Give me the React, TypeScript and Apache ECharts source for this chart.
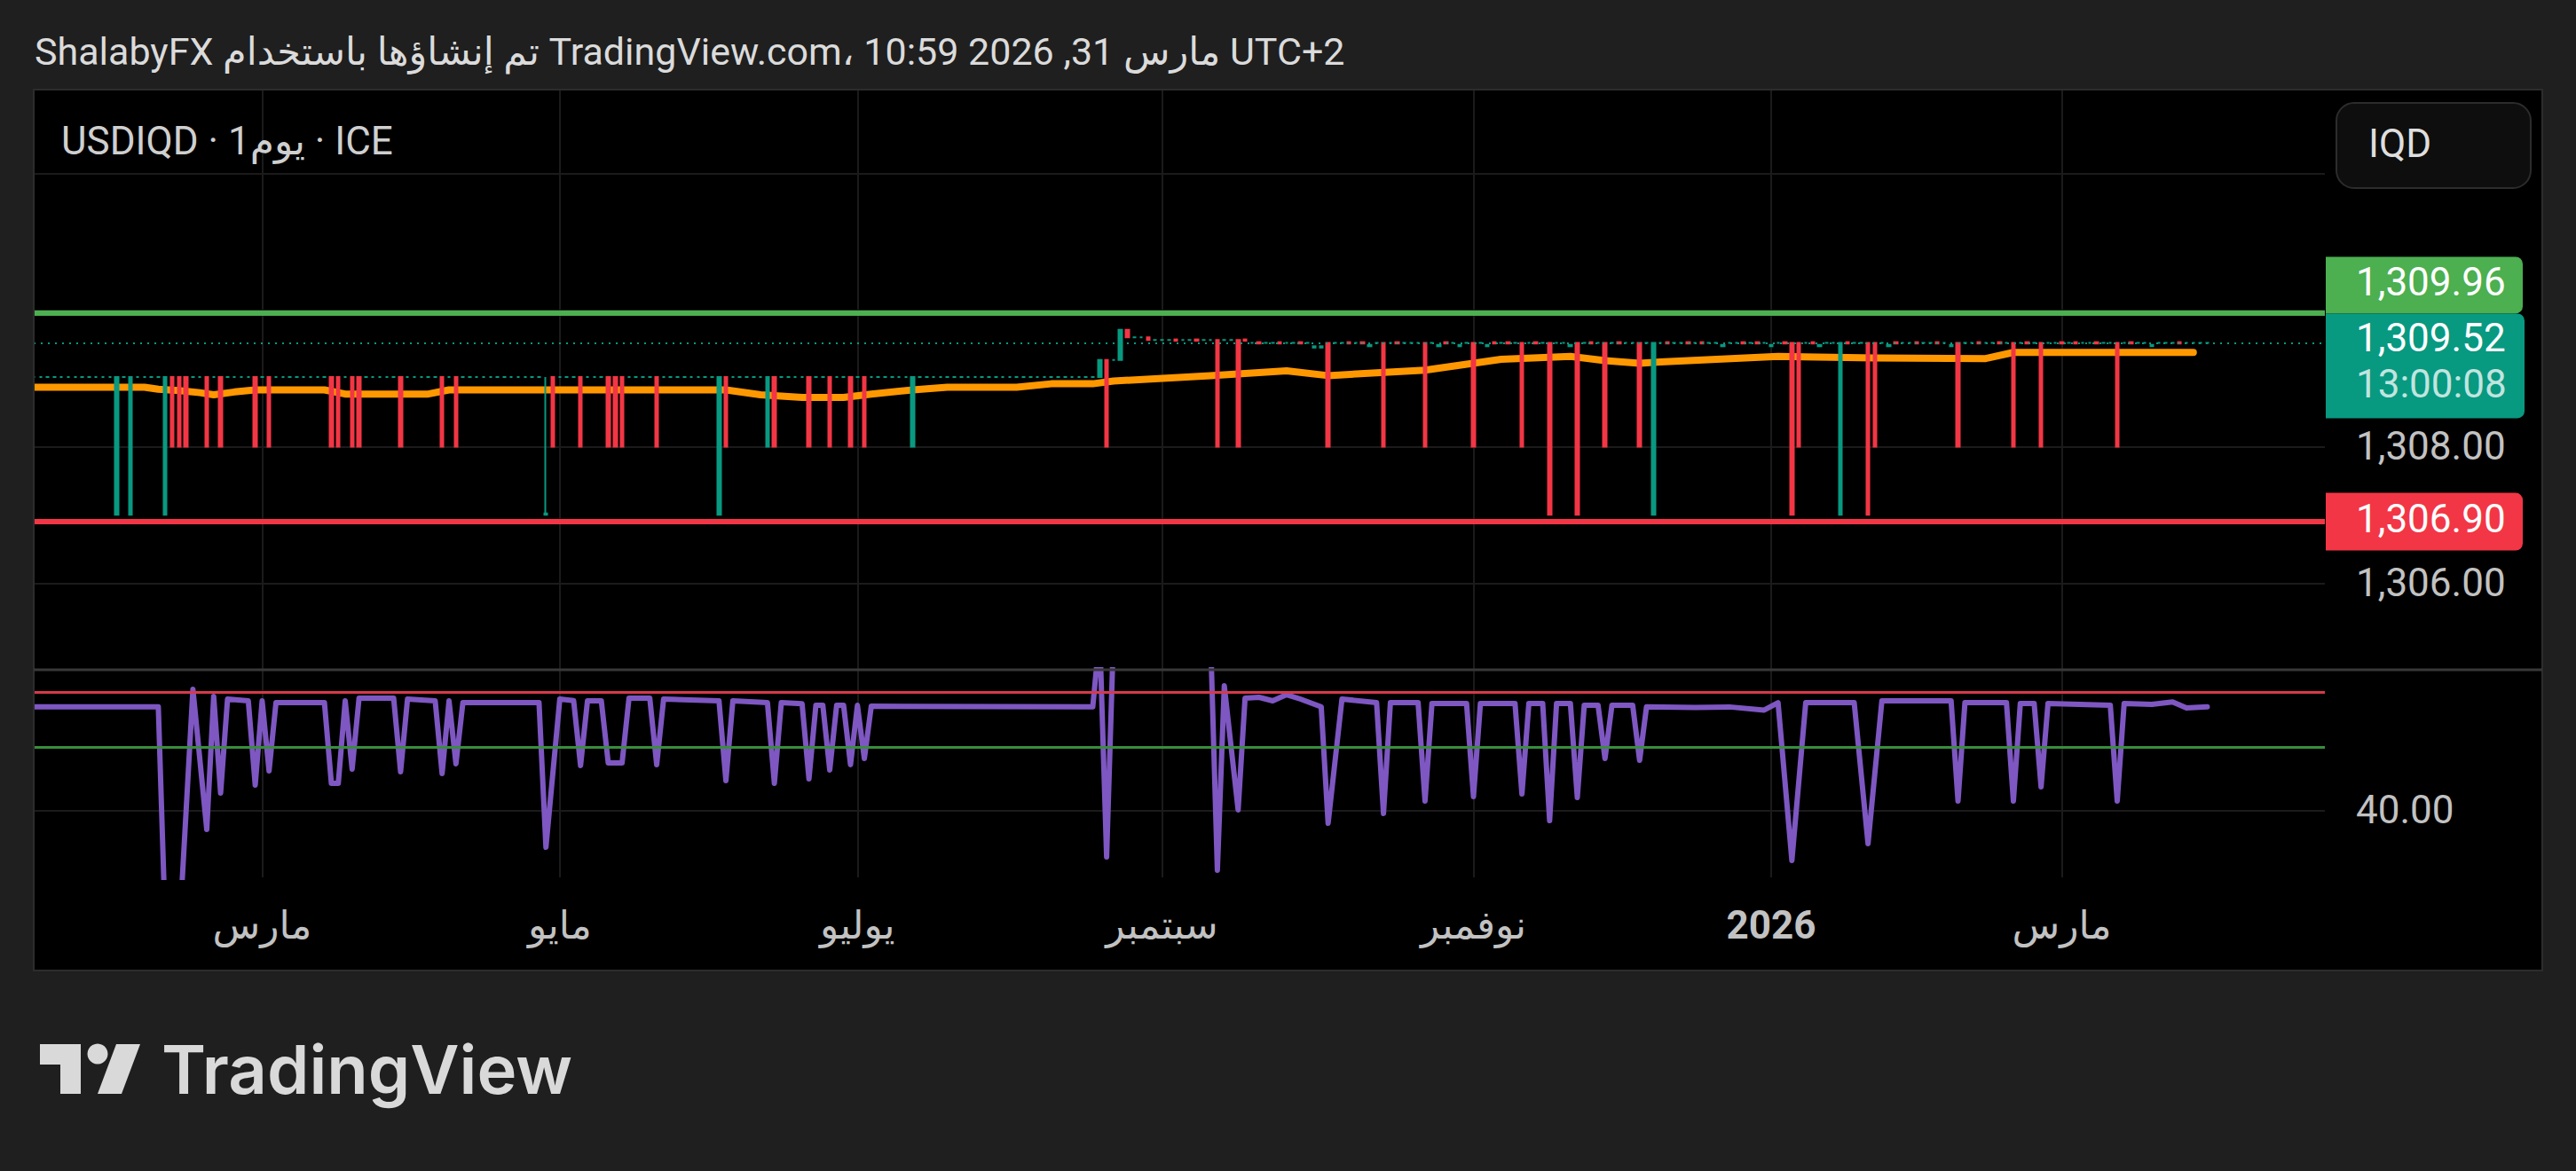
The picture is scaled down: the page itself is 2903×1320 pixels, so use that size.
import React, { useEffect, useRef } from "react";
import * as echarts from "echarts";

const PAGE_W = 2903;
const PAGE_H = 1320;
const FONT = "Roboto, 'DejaVu Sans', sans-serif";

// ---------------- time scale ----------------
const firstSessionDate = "2025-01-15";
const slotCount = 332; // weekday slots on the time scale (incl. empty right margin)
const lastBarIndex = 314; // 31 Mar 2026

const monthTickDates = ["2025-03-03", "2025-05-01", "2025-07-01", "2025-09-01", "2025-11-03", "2026-01-01", "2026-03-02"];
const monthTickNames = ["مارس", "مايو", "يوليو", "سبتمبر", "نوفمبر", "2026", "مارس"];
const boldTickNames = ["2026"];

// ---------------- price scale ----------------
const priceMin = 1304.73;
const priceMax = 1313.23;
const priceGridTicks = [1306, 1308, 1310, 1312];
const priceLabelTicks = [1306, 1308]; // 1,310 and 1,312 sit under the price tags / currency button
const highLevel = 1309.96;
const lastPrice = 1309.52;
const lowLevel = 1306.9;
const countdown = "13:00:08";

// flat quote level per range of bars [from, to, level]
const levelRuns: [number, number, number][] = [
  [0, 153, 1309.02],
  [154, 161, 1309.6],
  [162, 175, 1309.56],
  [176, 314, 1309.52],
];
// late-August step up: [bar, open, close]
const stepCandles: [number, number, number][] = [
  [154, 1309.02, 1309.27],
  [155, 1309.27, 1308.0],
  [156, 1309.27, 1309.27],
  [157, 1309.27, 1309.71],
  [158, 1309.71, 1309.6],
  [159, 1309.6, 1309.6],
  [160, 1309.6, 1309.6],
  [161, 1309.6, 1309.56],
];
const dropClose = 1308.0;
const deepClose = 1307.0;
const redDropBars = [20, 21, 22, 25, 27, 32, 34, 43, 44, 46, 47, 53, 59, 61, 75, 79, 83, 84, 85, 90, 100, 107, 112, 115, 118, 120, 171, 174, 187, 195, 201, 208, 215, 227, 232, 255, 266, 278, 286, 290, 301];
const redDeepBars = [219, 223, 254, 265];
const tealDeepBars = [12, 14, 19, 99, 234, 261];
const tealShortBars = [106, 127];
const tealWickBars = [74];
const redTickBars = [165, 168, 175, 177, 180, 183, 190, 192, 197, 204, 211, 213, 217, 225, 229, 236, 239, 241, 247, 249, 253, 257, 262, 269, 272, 275, 281, 284, 288, 293, 295, 298, 303, 310];
const lowTicks: [number, number][] = [
  [185, 1309.45], [186, 1309.45], [193, 1309.47], [203, 1309.47], [206, 1309.47], [210, 1309.47], [222, 1309.47],
  [244, 1309.47], [251, 1309.47], [258, 1309.47], [268, 1309.47], [277, 1309.47], [306, 1309.47],
];

// moving average (orange) read at knots [bar, value]
const maKnots: [number, number][] = [
  [0, 1308.87], [16, 1308.87], [18, 1308.84], [21, 1308.82], [24, 1308.79], [26, 1308.76], [29, 1308.8], [32, 1308.83],
  [42, 1308.83], [45, 1308.77], [57, 1308.77], [60, 1308.83], [100, 1308.83], [105, 1308.76], [111, 1308.72], [117, 1308.72],
  [121, 1308.77], [127, 1308.83], [132, 1308.87], [142, 1308.87], [147, 1308.92], [153, 1308.92], [156, 1308.96], [170, 1309.04],
  [181, 1309.11], [187, 1309.04], [201, 1309.12], [212, 1309.28], [222, 1309.32], [227, 1309.26], [232, 1309.22], [235, 1309.24],
  [252, 1309.32], [266, 1309.3], [282, 1309.29], [286, 1309.38], [312, 1309.38],
];

// ---------------- oscillator pane ----------------
const oscMin = 29.34;
const oscMax = 62.3;
const oscTicks = [40];
const oscUpper = 58.73;
const oscMiddle = 50;
const oscKnots: [number, number][] = [
  [0, 56.42], [18, 56.42], [19, 22], [21, 20], [23, 59.2], [25, 36.94], [26, 58.07], [27, 42.72], [28, 57.65], [31, 57.37],
  [32, 43.99], [33, 57.37], [34, 46.24], [35, 57.08], [42, 57.08], [43, 44.27], [44, 44.27], [45, 57.37], [46, 46.52], [47, 57.79],
  [52, 57.79], [53, 46.1], [54, 57.65], [58, 57.37], [59, 45.82], [60, 57.37], [61, 47.37], [62, 57.08], [73, 57.08], [74, 34.13],
  [76, 57.65], [78, 57.4], [79, 47.08], [80, 57.37], [82, 57.37], [83, 47.51], [85, 47.51], [86, 57.79], [89, 57.79], [90, 47.23],
  [91, 57.65], [99, 57.37], [100, 44.69], [101, 57.37], [106, 57.08], [107, 44.27], [108, 57.08], [111, 56.9], [112, 44.97],
  [113, 56.66], [114, 56.66], [115, 46.38], [116, 56.66], [117, 56.66], [118, 47.23], [119, 56.66], [120, 48.21], [121, 56.52],
  [153, 56.42], [154, 68], [155, 32.58], [156, 68], [170, 68], [171, 30.47], [172, 59.76], [174, 40.04], [175, 57.79],
  [177, 57.93], [179, 57.37], [181, 58.35], [183, 57.65], [186, 56.42], [187, 37.93], [189, 57.65], [194, 57.1], [195, 39.49],
  [196, 57.1], [200, 57.1], [201, 41.45], [202, 56.94], [207, 56.94], [208, 42.17], [209, 56.94], [214, 56.94], [215, 42.58],
  [216, 56.94], [218, 56.94], [219, 38.35], [220, 56.94], [222, 56.94], [223, 42.01], [224, 56.66], [226, 56.66], [227, 48.21],
  [228, 56.66], [231, 56.66], [232, 47.93], [233, 56.42], [240, 56.3], [245, 56.4], [250, 55.9], [252, 57.08], [254, 32.01],
  [256, 57.08], [263, 57.08], [265, 34.69], [267, 57.37], [277, 57.37], [278, 41.45], [279, 57.1], [285, 57.1], [286, 41.45],
  [287, 56.94], [289, 56.94], [290, 43.72], [291, 56.94], [300, 56.66], [301, 41.45], [302, 56.94], [306, 56.8], [309, 57.2],
  [311, 56.24], [314, 56.42],
];

// ---------------- colours ----------------
const UP = "#089981";
const DOWN = "#f23645";
const GRID = "#1b1b1b";
const AXIS_TEXT = "#c2c2c2";

function weekdaySlots(start: string, n: number): string[] {
  const out: string[] = [];
  const d = new Date(start + "T00:00:00Z");
  while (out.length < n) {
    const wd = d.getUTCDay();
    if (wd !== 0 && wd !== 6) out.push(d.toISOString().slice(0, 10));
    d.setUTCDate(d.getUTCDate() + 1);
  }
  return out;
}

function fmt(v: number) {
  return v.toLocaleString("en-US", { minimumFractionDigits: 2, maximumFractionDigits: 2 });
}

function buildCandles() {
  const rows: any[] = [];
  const lv: number[] = [];
  for (let i = 0; i <= lastBarIndex; i++) {
    const run = levelRuns.find((r) => i >= r[0] && i <= r[1]);
    const l = run ? run[2] : levelRuns[levelRuns.length - 1][2];
    lv.push(l);
    rows.push([l, l, l, l]);
  }
  stepCandles.forEach(([b, o, c]) => (rows[b] = [o, c, Math.min(o, c), Math.max(o, c)]));
  redDropBars.forEach((b) => (rows[b] = [lv[b], dropClose, dropClose, lv[b]]));
  redDeepBars.forEach((b) => (rows[b] = [lv[b], deepClose, deepClose, lv[b]]));
  tealDeepBars.forEach((b) => (rows[b] = [deepClose, lv[b], deepClose, lv[b]]));
  tealShortBars.forEach((b) => (rows[b] = [dropClose, lv[b], dropClose, lv[b]]));
  tealWickBars.forEach((b) => (rows[b] = [deepClose, deepClose + 0.02, deepClose, lv[b]]));
  redTickBars.forEach((b) => (rows[b] = [lv[b] + 0.01, lv[b] - 0.01, lv[b] - 0.01, lv[b] + 0.01]));
  lowTicks.forEach(([b, v]) => (rows[b] = [v, v + 0.02, v, v + 0.02]));
  return rows;
}

function buildOption() {
  const cats = weekdaySlots(firstSessionDate, slotCount);
  const tickMap: Record<string, string> = {};
  monthTickDates.forEach((d, i) => (tickMap[d] = monthTickNames[i]));
  const isTick = (_i: number, v: string) => tickMap[v] !== undefined;

  const xBase = {
    type: "category",
    data: cats,
    boundaryGap: false,
    axisLine: { show: false },
    axisTick: { show: false },
    splitLine: { show: true, interval: isTick, lineStyle: { color: GRID, width: 2 } },
  };

  return {
    animation: false,
    backgroundColor: "#000000",
    grid: [
      { left: 38, top: 101, width: 2582, height: 654, outerBoundsMode: "none" },
      { left: 38, top: 755, width: 2582, height: 234, outerBoundsMode: "none" },
    ],
    xAxis: [
      { ...xBase, gridIndex: 0, axisLabel: { show: false } },
      {
        ...xBase,
        gridIndex: 1,
        axisLabel: {
          show: true,
          interval: isTick,
          margin: 54,
          verticalAlign: "middle",
          color: AXIS_TEXT,
          fontSize: 44,
          fontFamily: FONT,
          formatter: (v: string) => {
            const name = tickMap[v] || "";
            return boldTickNames.includes(name) ? `{b|${name}}` : name;
          },
          rich: { b: { fontWeight: "bold", fontSize: 44, color: AXIS_TEXT, fontFamily: FONT } },
        },
      },
    ],
    yAxis: [
      {
        type: "value",
        gridIndex: 0,
        position: "right",
        min: priceMin,
        max: priceMax,
        axisLine: { show: false },
        axisTick: { show: false, customValues: priceGridTicks },
        axisLabel: { customValues: priceLabelTicks, formatter: (v: number) => fmt(v), margin: 35, align: "left", verticalAlign: "middle", color: AXIS_TEXT, fontSize: 44, fontFamily: FONT },
        splitLine: { show: true, lineStyle: { color: GRID, width: 2 } },
      },
      {
        type: "value",
        gridIndex: 1,
        position: "right",
        min: oscMin,
        max: oscMax,
        axisLine: { show: false },
        axisTick: { show: false, customValues: oscTicks },
        axisLabel: { customValues: oscTicks, formatter: (v: number) => fmt(v), margin: 35, align: "left", verticalAlign: "middle", color: AXIS_TEXT, fontSize: 44, fontFamily: FONT },
        splitLine: { show: true, lineStyle: { color: GRID, width: 2 } },
      },
    ],
    series: [
      {
        type: "line",
        name: "MA",
        xAxisIndex: 0,
        yAxisIndex: 0,
        data: maKnots,
        showSymbol: false,
        symbol: "none",
        z: 2,
        lineStyle: { color: "#ff9800", width: 8, cap: "round", join: "round" },
        silent: true,
      },
      {
        type: "candlestick",
        name: "USDIQD",
        xAxisIndex: 0,
        yAxisIndex: 0,
        data: buildCandles(),
        barWidth: 4,
        z: 3,
        clip: true,
        itemStyle: { color: UP, color0: DOWN, borderColor: UP, borderColor0: DOWN, borderColorDoji: UP, borderWidth: 2 },
        markLine: {
          silent: true,
          symbol: ["none", "none"],
          label: { show: false },
          data: [
            { yAxis: highLevel, lineStyle: { color: "#4caf50", width: 6, type: "solid" } },
            { yAxis: lowLevel, lineStyle: { color: DOWN, width: 6, type: "solid" } },
            { yAxis: lastPrice, lineStyle: { color: UP, width: 2, type: [2, 6] } },
          ],
        },
      },
      {
        type: "line",
        name: "Oscillator",
        xAxisIndex: 1,
        yAxisIndex: 1,
        data: oscKnots,
        showSymbol: false,
        symbol: "none",
        clip: true,
        z: 3,
        lineStyle: { color: "#7e57c2", width: 6, join: "round", cap: "round" },
        silent: true,
        markLine: {
          silent: true,
          symbol: ["none", "none"],
          label: { show: false },
          data: [
            { yAxis: oscUpper, lineStyle: { color: "#d8394a", width: 3, type: "solid" } },
            { yAxis: oscMiddle, lineStyle: { color: "#388e3c", width: 3, type: "solid" } },
          ],
        },
      },
    ],
  };
}

function txt(text: string, x: number, y: number, size: number, fill: string, extra: any = {}) {
  return {
    type: "text",
    x,
    y,
    z: 60,
    silent: true,
    style: {
      text,
      fill,
      fontSize: size,
      fontFamily: FONT,
      align: "left",
      textAlign: "left",
      verticalAlign: "middle",
      textVerticalAlign: "middle",
      ...extra,
    },
  };
}

function buildGraphics(chart: any) {
  const yPx = (v: number) => chart.convertToPixel({ yAxisIndex: 0 }, v) as number;
  const lastY = yPx(lastPrice);
  const lowY = yPx(lowLevel);
  const boxX = 2621;
  const tealTop = lastY - 33;
  const tealH = 118;
  const greenH = 64;
  const greenTop = tealTop - greenH;
  const redH = 65;
  const redTop = lowY - redH / 2;
  const labelX = 2655;
  const frame = "#1f1f1f";

  return [
    // page frame around the chart box
    { type: "rect", z: 50, silent: true, shape: { x: 0, y: 0, width: PAGE_W, height: 101 }, style: { fill: frame } },
    { type: "rect", z: 50, silent: true, shape: { x: 0, y: 1094, width: PAGE_W, height: PAGE_H - 1094 }, style: { fill: frame } },
    { type: "rect", z: 50, silent: true, shape: { x: 0, y: 101, width: 38, height: 993 }, style: { fill: frame } },
    { type: "rect", z: 50, silent: true, shape: { x: 2865, y: 101, width: PAGE_W - 2865, height: 993 }, style: { fill: frame } },
    { type: "rect", z: 51, silent: true, shape: { x: 38, y: 101, width: 2827, height: 993 }, style: { fill: "none", stroke: "#2c2c2c", lineWidth: 2 } },
    // pane separator
    { type: "line", z: 51, silent: true, shape: { x1: 38, y1: 755, x2: 2865, y2: 755 }, style: { stroke: "#383838", lineWidth: 3 } },
    // header
    txt("ShalabyFX تم إنشاؤها باستخدام TradingView.com، 10:59 2026 ,31 مارس UTC+2", 39, 58, 43, "#dbdbdb"),
    txt("USDIQD · 1يوم · ICE", 69, 159, 44, "#cfcfcf"),
    // currency button
    { type: "rect", z: 55, silent: true, shape: { x: 2633, y: 116, width: 219, height: 96, r: 20 }, style: { fill: "#0e0e0e", stroke: "#2c2c2c", lineWidth: 2 } },
    txt("IQD", 2669, 162, 44, "#dedede"),
    // price labels
    { type: "rect", z: 55, silent: true, shape: { x: boxX, y: greenTop, width: 222, height: greenH, r: [0, 8, 8, 0] }, style: { fill: "#4caf50" } },
    txt(fmt(highLevel), labelX, greenTop + greenH / 2 - 3, 44, "#ffffff"),
    { type: "rect", z: 55, silent: true, shape: { x: boxX, y: tealTop, width: 224, height: tealH, r: [0, 8, 8, 0] }, style: { fill: UP } },
    txt(fmt(lastPrice), labelX, lastY - 5, 44, "#ffffff"),
    txt(countdown, labelX, lastY + 47, 44, "rgba(255,255,255,0.75)"),
    { type: "rect", z: 55, silent: true, shape: { x: boxX, y: redTop, width: 222, height: redH, r: [0, 8, 8, 0] }, style: { fill: DOWN } },
    txt(fmt(lowLevel), labelX, lowY - 3, 44, "#ffffff"),
    // TradingView logo
    { type: "polygon", z: 60, silent: true, shape: { points: [[45, 1177], [91, 1177], [91, 1233], [68, 1233], [68, 1200], [45, 1200]] }, style: { fill: "#d9d9d9" } },
    { type: "circle", z: 60, silent: true, shape: { cx: 110, cy: 1188, r: 11.5 }, style: { fill: "#d9d9d9" } },
    { type: "polygon", z: 60, silent: true, shape: { points: [[131, 1177], [158, 1177], [137, 1233], [110, 1233]] }, style: { fill: "#d9d9d9" } },
    txt("TradingView", 182, 1205, 76, "#d9d9d9", { fontFamily: "Inter, Roboto, sans-serif", fontWeight: 600 }),
  ];
}

export default function App() {
  const ref = useRef<HTMLDivElement>(null);
  useEffect(() => {
    const el = ref.current;
    if (!el) return;
    const chart = echarts.init(el, null, { renderer: "svg", width: PAGE_W, height: PAGE_H });
    chart.setOption(buildOption() as any);
    chart.setOption({ graphic: buildGraphics(chart) } as any);
    return () => chart.dispose();
  }, []);
  return <div ref={ref} style={{ position: "absolute", left: 0, top: 0, width: PAGE_W, height: PAGE_H }} />;
}
